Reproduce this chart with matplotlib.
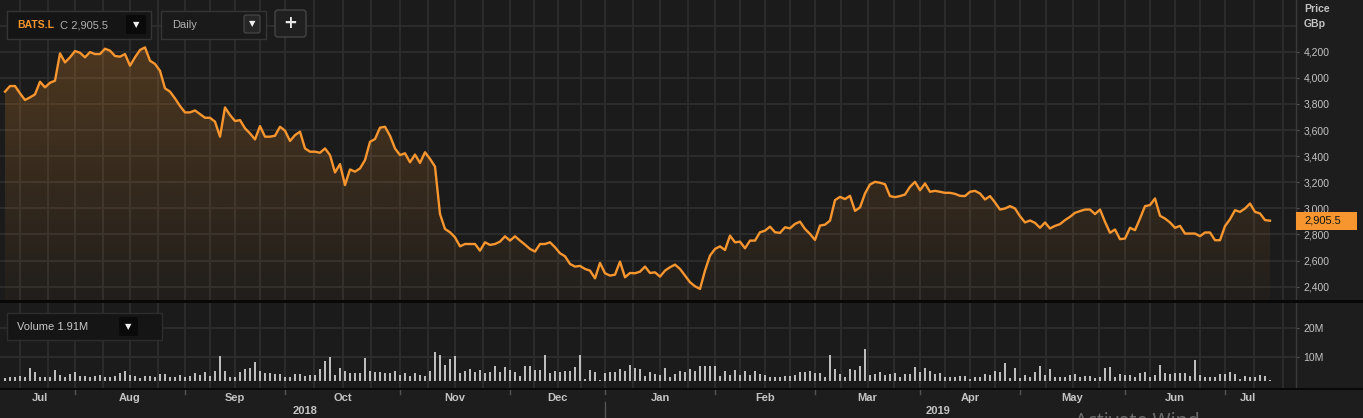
import numpy as np
import pandas as pd
import matplotlib
matplotlib.use('Agg')
import matplotlib.pyplot as plt
from matplotlib.colors import to_rgb
from matplotlib.patches import Rectangle, FancyBboxPatch
from matplotlib.ticker import FixedLocator

plt.rcParams['font.family'] = ['Liberation Sans', 'DejaVu Sans']

# BATS.L daily close (GBp), 12 Jul 2018 - 15 Jul 2019
price = [
    3894, 3937, 3937, 3881, 3830, 3850, 3873, 3970, 3927, 3962,
    3978, 4187, 4118, 4157, 4205, 4192, 4157, 4197, 4182, 4182,
    4223, 4208, 4167, 4162, 4182, 4093, 4157, 4213, 4233, 4131,
    4106, 4054, 3919, 3894, 3842, 3784, 3735, 3735, 3750, 3722,
    3694, 3694, 3664, 3549, 3773, 3715, 3669, 3676, 3613, 3574,
    3528, 3630, 3549, 3549, 3556, 3625, 3595, 3516, 3561, 3587,
    3459, 3434, 3434, 3426, 3459, 3408, 3275, 3339, 3178, 3298,
    3281, 3306, 3370, 3510, 3531, 3618, 3625, 3556, 3459, 3408,
    3422, 3353, 3412, 3348, 3430, 3379, 3320, 2957, 2842, 2817,
    2778, 2709, 2727, 2727, 2727, 2676, 2740, 2720, 2727, 2745,
    2786, 2753, 2786, 2753, 2722, 2689, 2669, 2727, 2727, 2740,
    2702, 2656, 2633, 2574, 2554, 2559, 2536, 2523, 2464, 2582,
    2503, 2485, 2492, 2592, 2472, 2505, 2503, 2515, 2554, 2505,
    2510, 2477, 2523, 2549, 2569, 2536, 2485, 2434, 2403, 2383,
    2523, 2638, 2689, 2709, 2681, 2791, 2740, 2745, 2694, 2753,
    2753, 2817, 2829, 2860, 2817, 2812, 2855, 2847, 2881, 2898,
    2842, 2804, 2758, 2868, 2875, 2906,
    3063, 3088, 3071, 3096, 2981, 3007, 3114, 3183, 3203, 3196,
    3185, 3094, 3086, 3094, 3106, 3165, 3203, 3139, 3191, 3127,
    3134, 3127, 3119, 3119, 3111, 3096, 3094, 3127, 3134, 3114,
    3068, 3094, 3045, 2991, 2999, 3017, 2999, 2940, 2892, 2907,
    2889, 2851, 2892, 2846, 2866, 2879, 2910, 2935, 2966, 2979,
    2991, 2991, 2956, 2991, 2897, 2813, 2838, 2764, 2769, 2851,
    2833, 2922, 3017, 3025, 3076, 2943, 2922, 2892, 2851, 2866,
    2807, 2807, 2807, 2787, 2815, 2815, 2756, 2756, 2864, 2917,
    2986, 2973, 2999, 3037, 2973, 2961, 2910, 2905.5,
]

# daily volume, millions of shares
volume = [
    2.6, 3.0, 2.8, 3.4, 3.0, 6.2, 4.8, 2.8, 2.8, 2.8, 5.4, 3.5, 3.0, 4.0, 4.6, 3.2,
    3.2, 3.1, 3.2, 3.5, 3.0, 3.0, 3.3, 4.2, 5.1, 3.7, 3.4, 2.7, 3.2, 3.2, 3.0, 4.0,
    4.0, 3.1, 3.1, 3.8, 3.0, 3.3, 4.5, 3.8, 4.6, 3.3, 5.1, 10.3, 4.9, 3.1, 2.8, 4.7,
    5.9, 6.2, 8.1, 4.9, 4.4, 4.2, 3.9, 4.0, 3.1, 3.0, 3.9, 4.1, 3.2, 3.7, 3.7,
    5.8, 8.5, 9.9, 3.8, 6.0, 5.2, 4.4, 4.2, 4.5, 9.7, 4.9, 4.7, 4.7, 4.4, 4.4, 5.1,
    3.7, 4.4, 3.3, 4.5, 3.8, 3.2, 4.9, 11.8, 10.7, 7.0, 9.1, 10.3, 4.4, 5.2, 5.8, 4.6,
    5.5, 4.4, 4.8, 6.8, 4.8, 6.6, 5.3, 4.7, 3.3, 6.9, 6.9, 5.4, 5.5, 10.5, 4.2, 5.1,
    4.7, 5.1, 5.2, 6.5, 10.5, 2.1, 5.4, 4.7, 1.9, 4.2, 4.8, 4.8, 5.6, 5.2, 7.0, 6.2,
    5.6, 3.4, 4.6, 4.0, 3.8, 6.1, 3.1, 4.0, 4.9, 4.6, 5.8, 5.1, 6.7, 6.7, 6.7, 6.9,
    3.4, 5.1, 3.7, 5.4, 3.8, 4.9, 3.8, 5.1, 4.0, 3.8, 3.0, 3.0, 2.8, 3.3, 3.4, 3.5,
    4.7, 4.6, 5.1, 4.4, 4.4, 3.1, 10.6, 5.9, 4.0, 3.1, 5.6, 5.4, 6.9, 12.7, 3.8, 3.9,
    4.7, 3.5, 3.9, 4.2, 3.1, 4.1, 4.1, 6.3, 4.7, 6.0, 5.1, 4.1, 4.4, 3.0, 3.0, 3.1,
    3.4, 3.4, 2.4, 3.1, 3.1, 4.0, 3.8, 5.1, 4.6, 7.7, 2.6, 6.2, 2.5, 3.7, 3.1, 4.7,
    6.7, 3.8, 5.8, 3.0, 3.0, 3.0, 3.5, 4.0, 2.8, 3.2, 3.2, 2.7, 3.0, 6.1, 6.5, 3.1,
    4.0, 3.7, 3.5, 3.1, 4.4, 4.6, 3.1, 3.5, 7.3, 4.2, 4.0, 4.5, 4.5, 4.5, 3.4, 8.8,
    3.5, 2.8, 2.8, 3.0, 4.1, 4.1, 4.7, 4.1, 2.4, 3.2, 3.0, 2.8, 3.5, 3.3, 1.91,
]

uk_holidays = ['2018-08-27', '2018-12-25', '2018-12-26', '2019-01-01',
               '2019-04-19', '2019-04-22', '2019-05-06', '2019-05-27']
price_ticks = [2400, 2600, 2800, 3000, 3200, 3400, 3600, 3800, 4000, 4200]
vol_ticks = [10, 20]
ticker = 'BATS.L'
last_close = price[-1]
last_volume = volume[-1]

dates = pd.bdate_range('2018-07-12', periods=len(price), freq='C', holidays=uk_holidays)
x = np.arange(len(price))

# trading-day calendar around the data, positions relative to first bar
cal = pd.bdate_range('2018-07-01', '2019-08-31', freq='C', holidays=uk_holidays)
pos = np.arange(len(cal)) - cal.get_loc(dates[0])
mstart = np.r_[True, cal.month[1:] != cal.month[:-1]]
mpos = pos[mstart]
mdates = cal[mstart]

grid_x = []
for a, b in zip(mpos[:-1], mpos[1:]):
    grid_x += [a + k * (b - a) / 4 for k in range(4)]

W, H = 1363, 418
BG = '#1b1b1b'
GRID = '#2d2d2d'
ORANGE = '#f7962e'
TXT = '#c4c4c4'

fig = plt.figure(figsize=(W / 100, H / 100), dpi=100, facecolor='#1d1d1d')


def box(l, t, r, b):
    return [l / W, 1 - b / H, (r - l) / W, (b - t) / H]


ax = fig.add_axes(box(0, 0, 1296, 300), facecolor=BG)
axv = fig.add_axes(box(0, 303, 1296, 388), facecolor=BG, sharex=ax)

xlim = (-1.0, 258.2)
ylim = (2298, 4596)

# price line with gradient fill
poly = ax.fill_between(x, price, ylim[0], facecolor='none', edgecolor='none')
grad = np.zeros((256, 1, 4))
grad[..., :3] = to_rgb(ORANGE)
grad[:, 0, 3] = np.linspace(0.03, 0.27, 256)
img = ax.imshow(grad, extent=[xlim[0], xlim[1], ylim[0], ylim[1]], origin='lower',
                aspect='auto', zorder=1, interpolation='bilinear')
img.set_clip_path(poly.get_paths()[0], ax.transData)
ax.plot(x, price, color=ORANGE, lw=1.7, zorder=3, solid_joinstyle='round')

ax.set_xlim(*xlim)
ax.set_ylim(*ylim)

# volume bars
base = 1.5
axv.bar(x, np.array(volume) - base, bottom=base, width=0.42, color='#bdbdbd', zorder=3)
axv.set_ylim(-0.87, 28.75)

for a in (ax, axv):
    a.xaxis.set_major_locator(FixedLocator([]))
    a.xaxis.set_minor_locator(FixedLocator(grid_x))
    a.yaxis.tick_right()
    a.grid(True, which='both', color=GRID, lw=1.3, zorder=0)
    a.set_axisbelow(True)
    a.tick_params(axis='x', which='both', length=0, labelbottom=False)
    a.tick_params(axis='y', which='major', length=2.5, width=0.8, color='#555555',
                  labelcolor=TXT, labelsize=7.5, pad=3)
    a.tick_params(axis='y', which='minor', length=0)
    for s in ('left', 'top', 'bottom'):
        a.spines[s].set_visible(False)
    a.spines['right'].set_color('#3a3a3a')
    a.spines['right'].set_linewidth(1)

ax.set_yticks(price_ticks)
ax.set_yticklabels([f'{v:,}' for v in price_ticks])
ax.yaxis.set_minor_locator(FixedLocator([4400]))
axv.set_yticks(vol_ticks)
axv.set_yticklabels([f'{v}M' for v in vol_ticks])
axv.set_xlim(*xlim)

# date axis below the volume panel
tr = axv.get_xaxis_transform()
n = len(price)
for d0, a, b in zip(mdates[:-1], mpos[:-1], mpos[1:]):
    lo, hi = max(a, 0), min(b, n - 1)
    if hi <= lo:
        continue
    axv.text((lo + hi) / 2, -0.115, d0.strftime('%b'), transform=tr, ha='center',
             va='center', color=TXT, fontsize=8, fontweight='bold', clip_on=False)
    if a > 0:
        axv.plot([a, a], [-0.015, -0.07], transform=tr, color='#555555', lw=1, clip_on=False)

ystart = mpos[(mdates.month == 1)][0]
for label, lo, hi in [('2018', 0, ystart), ('2019', ystart, n - 1)]:
    axv.text((lo + hi) / 2, -0.27, label, transform=tr, ha='center', va='center',
             color=TXT, fontsize=8, fontweight='bold', clip_on=False)
axv.plot([ystart, ystart], [-0.17, -0.36], transform=tr, color='#555555', lw=1, clip_on=False)

# overlay for panel chrome
ov = fig.add_axes([0, 0, 1, 1], zorder=10)
ov.set_xlim(0, W)
ov.set_ylim(H, 0)
ov.axis('off')
ov.patch.set_alpha(0)

ov.add_patch(Rectangle((0, 300), W, 3, fc='#080808', ec='none'))
ov.add_patch(Rectangle((0, 387.5), W, 2, fc='#080808', ec='none'))

ov.text(1304, 8.5, 'Price', color=TXT, fontsize=7.5, fontweight='bold', va='center')
ov.text(1304, 24, 'GBp', color=TXT, fontsize=7.5, fontweight='bold', va='center')

# last price tag
tag_y = H - ax.transData.transform((0, last_close))[1]
ov.add_patch(Rectangle((1296, tag_y - 9), 61, 18, fc=ORANGE, ec='none'))
ov.text(1304, tag_y, f'{last_close:,.1f}', color='#151515', fontsize=8, va='center')


def dropdown(x0, y0, w, h, fc, ec='none'):
    ov.add_patch(FancyBboxPatch((x0, y0), w, h, boxstyle='round,pad=0,rounding_size=2',
                                fc=fc, ec=ec, lw=0.8))
    ov.text(x0 + w / 2, y0 + h / 2, '▼', color='#f0f0f0', fontsize=6,
            ha='center', va='center', family='DejaVu Sans')


ov.add_patch(Rectangle((7, 11), 144, 28, fc='#151515', ec='#353535', lw=1))
ov.text(17, 25, ticker, color=ORANGE, fontsize=7.5, fontweight='bold', va='center')
ov.text(60, 25, f'C {last_close:,.1f}', color='#b0b0b0', fontsize=8, va='center')
dropdown(126, 15, 20, 19, '#0a0a0a')

ov.add_patch(Rectangle((161, 11), 105, 28, fc='#1a1a1a', ec='#353535', lw=1))
ov.text(172, 25, 'Daily', color='#b0b0b0', fontsize=8, va='center')
dropdown(244, 15, 16, 18, '#262626', '#4a4a4a')

ov.add_patch(FancyBboxPatch((275, 10), 31, 27, boxstyle='round,pad=0,rounding_size=3',
                            fc='#202020', ec='#454545', lw=1))
ov.text(290.5, 23, '+', color='#e8e8e8', fontsize=12, fontweight='bold',
        ha='center', va='center', family='DejaVu Sans')

ov.add_patch(Rectangle((7, 313), 155, 27, fc='#151515', ec='#2e2e2e', lw=1))
ov.text(17, 327, f'Volume {last_volume:.2f}M', color='#c8c8c8', fontsize=8, va='center')
dropdown(119, 317, 19, 19, '#0a0a0a')

ov.text(1075, 427, 'Activate Wind', color='#6a6a6a', fontsize=14,
        family='Noto Sans', va='baseline', clip_on=False)

fig.savefig('out.png', dpi=100, facecolor=fig.get_facecolor())
